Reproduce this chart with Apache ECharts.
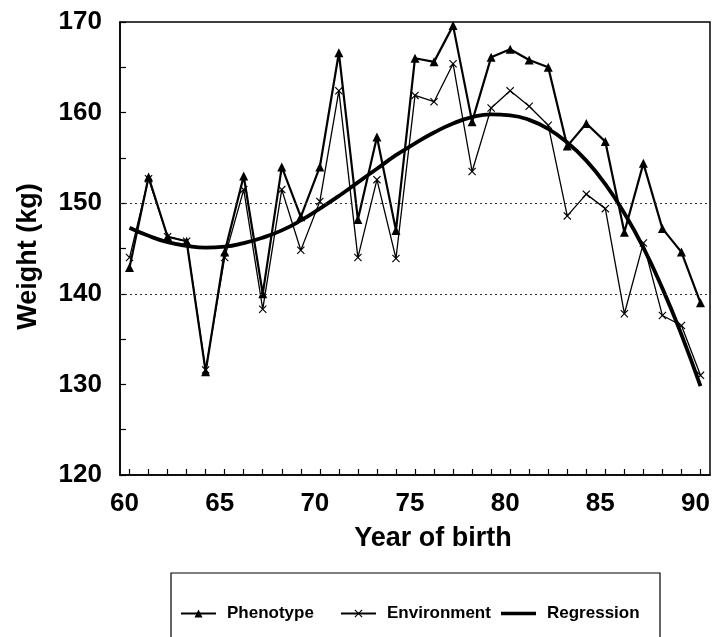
<!DOCTYPE html>
<html>
<head>
<meta charset="utf-8">
<script src="https://cdn.jsdelivr.net/npm/echarts@6/dist/echarts.min.js"></script>
<style>html,body{margin:0;padding:0;background:#fff}#c{width:713px;height:637px}</style>
</head>
<body>
<div id="c"></div>
<script>
var years = [60,61,62,63,64,65,66,67,68,69,70,71,72,73,74,75,76,77,78,79,80,81,82,83,84,85,86,87,88,89,90];
var phenotype = [142.9,152.9,146.3,145.8,131.4,144.6,153.0,140.0,154.0,148.5,154.0,166.6,148.2,157.3,147.0,166.0,165.6,169.6,159.0,166.1,167.0,165.8,165.0,156.3,158.8,156.8,146.8,154.4,147.2,144.6,139.0];
var environment = [144.0,152.7,146.3,145.8,131.6,144.0,151.5,138.3,151.5,144.8,150.2,162.4,144.0,152.6,143.9,161.9,161.2,165.4,153.5,160.5,162.4,160.7,158.6,148.6,151.0,149.4,137.8,145.6,137.6,136.5,131.0];
var regression = [147.3,146.4,145.7,145.3,145.1,145.2,145.6,146.2,147.0,148.1,149.4,150.8,152.3,153.8,155.3,156.6,157.8,158.8,159.5,159.8,159.7,159.2,158.2,156.7,154.7,152.1,148.9,145.1,140.6,135.5,129.8];
var xTickValues = years;
var xLabelValues = [60,65,70,75,80,85,90];
var refLines = [140,150];
var seriesNames = ['Phenotype','Environment','Regression'];

function pairs(v){ return years.map(function(y,i){ return [y, v[i]]; }); }

var xSymbol = 'path://M0,1L1,0L5,4L9,0L10,1L6,5L10,9L9,10L5,6L1,10L0,9L4,5Z';
var lineIcon = 'path://M0,0H36V3.5H0Z';
var font = 'Liberation Sans, Arial, sans-serif';
var legendLefts = [180, 340, 501];
var legendText = { fontFamily: font, fontSize: 17, fontWeight: 'bold', color: '#000', padding: [0,0,0,6] };

var chart = echarts.init(document.getElementById('c'));
chart.setOption({
  animation: false,
  backgroundColor: '#fff',
  grid: { left: 120, right: 3, top: 22, bottom: 162, show: true, borderColor: '#000', borderWidth: 1.5 },
  xAxis: {
    type: 'value', min: 59.5, max: 90.5,
    name: 'Year of birth', nameLocation: 'middle', nameGap: 50,
    nameTextStyle: { fontFamily: font, fontSize: 27, fontWeight: 'bold', color: '#000', padding: [0,0,0,36] },
    axisLine: { show: true, onZero: false, lineStyle: { color: '#000', width: 1.5 } },
    axisTick: { show: true, inside: true, length: 6, customValues: xTickValues, lineStyle: { color: '#000', width: 1.2 } },
    axisLabel: { customValues: xLabelValues, margin: 16, fontFamily: font, fontSize: 26, fontWeight: 'bold', color: '#000', padding: [0,10,0,0] },
    splitLine: { show: false }
  },
  yAxis: {
    type: 'value', min: 120, max: 170, interval: 5,
    name: 'Weight (kg)', nameLocation: 'middle', nameGap: 78, nameRotate: 90,
    nameTextStyle: { fontFamily: font, fontSize: 27, fontWeight: 'bold', color: '#000', padding: [0,16,0,0] },
    axisLine: { show: true, lineStyle: { color: '#000', width: 1.5 } },
    axisTick: { show: true, inside: true, length: 6, lineStyle: { color: '#000', width: 1.2 } },
    axisLabel: { margin: 18, fontFamily: font, fontSize: 26, fontWeight: 'bold', color: '#000',
      formatter: function(v){ return v % 10 === 0 ? String(v) : ''; } },
    splitLine: { show: false }
  },
  legend: seriesNames.map(function(n, i){
    return {
      data: [ i === 2 ? { name: n, icon: lineIcon } : n ],
      left: legendLefts[i], top: 605, itemWidth: 35, itemHeight: 10, padding: 0,
      textStyle: legendText
    };
  }),
  graphic: [{ type: 'rect', shape: { x: 171, y: 573, width: 489, height: 90 },
    style: { fill: 'none', stroke: '#000', lineWidth: 1.2 }, silent: true }],
  series: [
    { name: 'Phenotype', type: 'line', data: pairs(phenotype), symbol: 'triangle', symbolSize: 9,
      itemStyle: { color: '#000' }, lineStyle: { color: '#000', width: 2.2 }, z: 3 },
    { name: 'Environment', type: 'line', data: pairs(environment), symbol: xSymbol, symbolSize: 8,
      itemStyle: { color: '#000' }, lineStyle: { color: '#000', width: 1.3 }, z: 2 },
    { name: 'Regression', type: 'line', data: pairs(regression), symbol: 'none', smooth: true,
      lineStyle: { color: '#000', width: 3.8 }, itemStyle: { color: '#000' }, z: 4,
      markLine: { silent: true, symbol: 'none', label: { show: false },
        lineStyle: { color: '#333', type: [2,3], width: 1 },
        data: refLines.map(function(v){ return { yAxis: v }; }) } }
  ]
});
</script>
</body>
</html>
